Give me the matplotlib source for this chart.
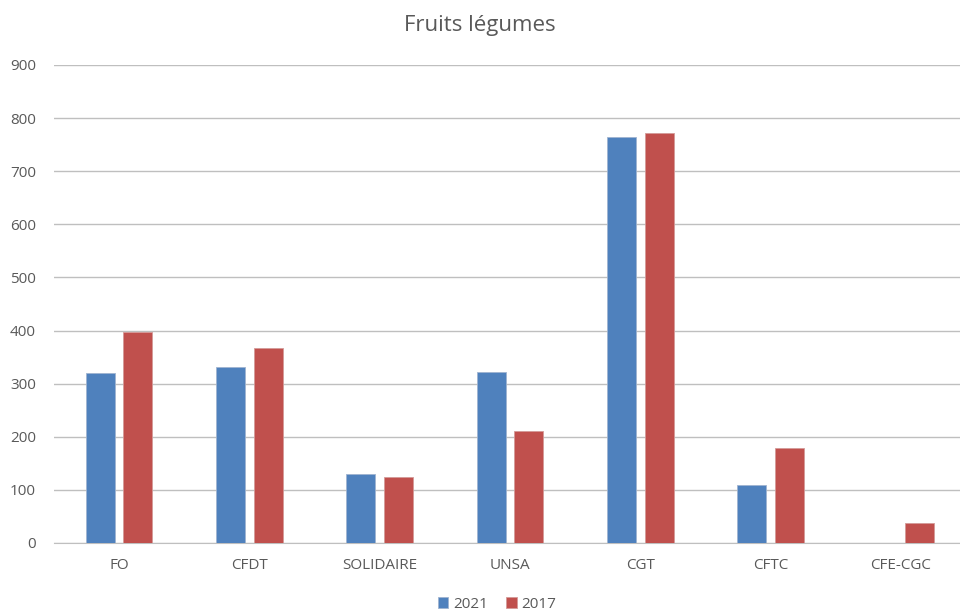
import matplotlib
matplotlib.use("Agg")
import matplotlib.pyplot as plt
import numpy as np

categories = ["FO", "CFDT", "SOLIDAIRE", "UNSA", "CGT", "CFTC", "CFE-CGC"]
values_2021 = [321, 331, 130, 322, 765, 109, 0]
values_2017 = [397, 368, 124, 211, 772, 179, 38]
series_labels = ["2021", "2017"]
yticks = [0, 100, 200, 300, 400, 500, 600, 700, 800, 900]

plt.rcParams['font.family'] = ['Open Sans', 'DejaVu Sans']
txt = '#595959'

fig = plt.figure(figsize=(9.6, 6.15), dpi=100)
ax = fig.add_axes([54/960, 1-543/615, 912/960, (543-65)/615])

x = np.arange(len(categories))
w = 0.222
off = 0.144
ax.bar(x - off, values_2021, w, color='#4F81BD', label=series_labels[0], zorder=3,
       edgecolor='#9fb4d0', linewidth=0.6)
ax.bar(x + off, values_2017, w, color='#C0504D', label=series_labels[1], zorder=3,
       edgecolor='#d49a98', linewidth=0.6)

ax.set_xlim(-0.5, len(categories) - 0.5)
ax.set_ylim(0, 900)
ax.set_yticks(yticks)
ax.set_xticks(x)
ax.set_xticklabels(categories)
ax.grid(axis='y', color='#bfbfbf', linewidth=1, zorder=0)
for s in ['top', 'right', 'left']:
    ax.spines[s].set_visible(False)
ax.spines['bottom'].set_color('#bfbfbf')
ax.tick_params(axis='both', length=0, labelsize=11, colors=txt)
ax.tick_params(axis='y', pad=13)
ax.tick_params(axis='x', pad=11)

fig.text(0.5, 1-25/615, "Fruits légumes", ha='center', va='center', fontsize=16, color=txt)

leg = fig.legend(loc='center', bbox_to_anchor=(497/960, 1-604/615), ncol=2, frameon=False,
                 fontsize=11, handlelength=0.7, handleheight=0.7, handletextpad=0.3,
                 columnspacing=1.2)
for t in leg.get_texts():
    t.set_color(txt)

fig.savefig("out.png", dpi=100)
